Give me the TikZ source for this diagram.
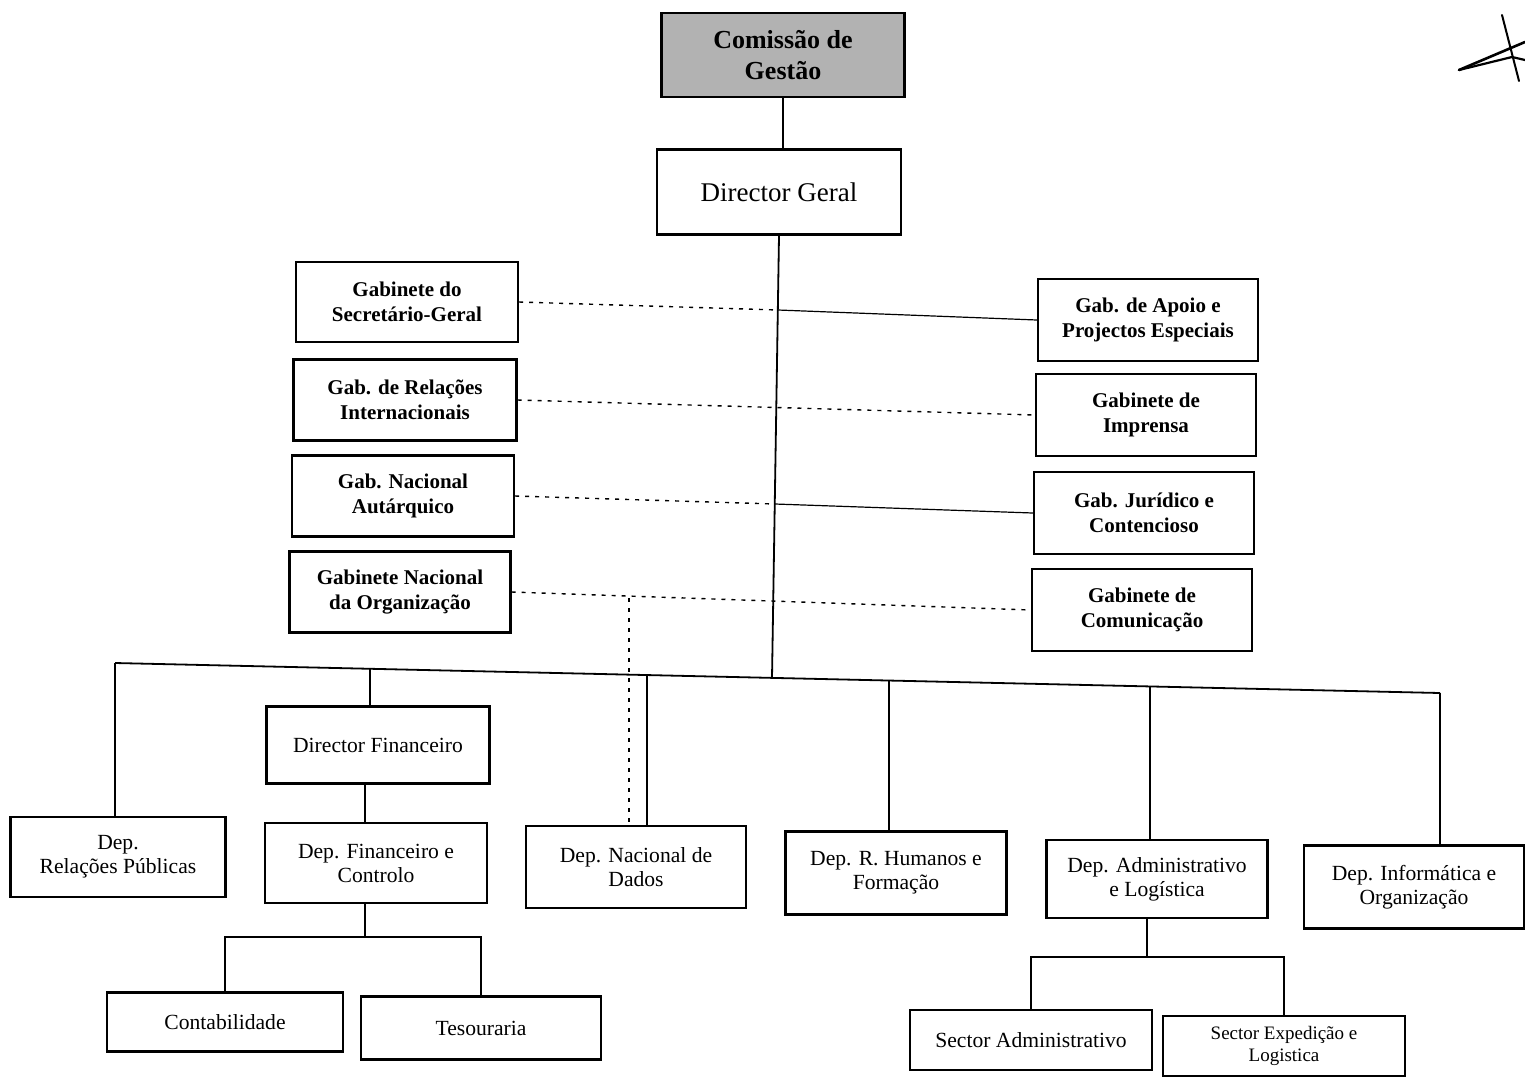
\documentclass[tikz,border=0pt]{standalone}
\usepackage{fontspec}
\setmainfont{Liberation Serif}
\usetikzlibrary{calc}
\begin{document}
\begin{tikzpicture}[x=0.5pt,y=-0.5pt,
  box/.style={draw, line width=1.1pt, align=center, inner sep=0pt, fill=white},
  gab/.style={box, font=\fontsize{10.5}{12.5}\selectfont\bfseries, minimum width=110pt, minimum height=41pt},
  dep/.style={box, font=\fontsize{10.8}{12}\selectfont, minimum width=110pt, minimum height=41pt},
  solidline/.style={line width=0.9pt},
  thinline/.style={line width=0.6pt},
  dotline/.style={line width=0.7pt, dash pattern=on 2pt off 3pt}]
\useasboundingbox (0,0) rectangle (1525,1077);

% top
\node[box, fill=black!30, font=\fontsize{13}{15.5}\selectfont\bfseries, minimum width=121.5pt, minimum height=42pt] (cg) at (783,55) {Comiss\~ao de\\Gest\~ao};
\node[box, font=\fontsize{13.5}{16}\selectfont, minimum width=122pt, minimum height=42.5pt] (dg) at (779,192) {Director Geral};

% gabinetes left
\node[gab, minimum width=111pt, minimum height=40pt] (gsg) at (407,302) {Gabinete do\\Secret\'ario-Geral};
\node[gab, minimum width=111.5pt, minimum height=40.5pt] (gri) at (405,400) {Gab. de Rela\c{c}\~oes\\Internacionais};
\node[gab, minimum width=111pt, minimum height=40.5pt] (gna) at (403,496) {Gab. Nacional\\Aut\'arquico};
\node[gab, minimum width=110.5pt, minimum height=40.5pt] (gno) at (400,592) {Gabinete Nacional\\da Organiza\c{c}\~ao};

% gabinetes right
\node[gab] (gap) at (1148,320) {Gab. de Apoio e\\Projectos Especiais};
\node[gab] (gim) at (1146,415) {Gabinete de\\Imprensa};
\node[gab] (gjc) at (1144,513) {Gab. Jur\'idico e\\Contencioso};
\node[gab] (gco) at (1142,610) {Gabinete de\\Comunica\c{c}\~ao};

% departments
\node[dep, minimum width=107.5pt, minimum height=40pt] (drp) at (118,857) {Dep.\\Rela\c{c}\~oes P\'ublicas};
\node[dep, minimum width=111.5pt, minimum height=38.5pt] (df) at (378,745) {Director Financeiro};
\node[dep, minimum width=111pt, minimum height=40pt] (dfc) at (376,863) {Dep. Financeiro e\\Controlo};
\node[dep, minimum width=110pt, minimum height=41pt] (dnd) at (636,867) {Dep. Nacional de\\Dados};
\node[dep, minimum width=110.5pt, minimum height=41.5pt] (drh) at (896,873) {Dep. R. Humanos e\\Forma\c{c}\~ao};
\node[dep, minimum width=110.5pt, minimum height=39pt] (dal) at (1157,879) {Dep. Administrativo\\e Log\'istica};
\node[dep, minimum width=110pt, minimum height=41.5pt] (dio) at (1414,887) {Dep. Inform\'atica e\\Organiza\c{c}\~ao};

% lower level
\node[dep, minimum width=118pt, minimum height=29.5pt] (cont) at (225,1022) {Contabilidade};
\node[dep, minimum width=120pt, minimum height=31.5pt] (tes) at (481,1028) {Tesouraria};
\node[dep, minimum width=121pt, minimum height=30pt] (sa) at (1031,1040) {Sector Administrativo};
\node[dep, font=\fontsize{9.5}{11}\selectfont, minimum width=121pt, minimum height=30pt] (se) at (1284,1046) {Sector Expedi\c{c}\~ao e\\Logistica};

% coordinates
\coordinate (t1) at (778,310);
\coordinate (t3) at (775,504);
\coordinate (d4) at (629,598);
\coordinate (bL) at (115,663);
\coordinate (b1) at (370,669);
\coordinate (b2) at (647,676);
\coordinate (bT) at (772,678);
\coordinate (b3) at (889,681);
\coordinate (b4) at (1150,687);
\coordinate (bR) at (1440,693);
\coordinate (j1) at (365,937);
\coordinate (j2) at (1147,957);

% connectors
\draw[solidline] (cg.south) -- (cg.south |- dg.north);
\draw[solidline] (dg.south) -- (bT);
\draw[solidline] (bL) -- (bR);
\draw[dotline] (gsg.east) -- (t1);
\draw[thinline] (t1) -- (gap.west);
\draw[dotline] (gri.east) -- (gim.west);
\draw[dotline] (gna.east) -- (t3);
\draw[thinline] (t3) -- (gjc.west);
\draw[dotline] (gno.east) -- (gco.west);
\draw[dotline] (d4) -- (d4 |- dnd.north);

\draw[solidline] (bL) -- (bL |- drp.north);
\draw[solidline] (b1) -- (b1 |- df.north);
\draw[solidline] (b2) -- (b2 |- dnd.north);
\draw[solidline] (b3) -- (b3 |- drh.north);
\draw[solidline] (b4) -- (b4 |- dal.north);
\draw[solidline] (bR) -- (bR |- dio.north);

\draw[thinline] (df.south -| j1) -- (j1 |- dfc.north);
\draw[thinline] (dfc.south -| j1) -- (j1);
\draw[thinline] (cont.north) |- (j1) -| (tes.north);
\draw[thinline] (dal.south -| j2) -- (j2);
\draw[thinline] (sa.north) |- (j2) -| (se.north);

% handwritten mark
\draw[line width=1.3pt, line cap=round] (1459,70) -- (1525,42);
\draw[line width=1.1pt, line cap=round] (1459,70) -- (1512,57) -- (1525,60);
\draw[line width=1pt, line cap=round] (1502,15) -- (1519,81);
\end{tikzpicture}
\end{document}
